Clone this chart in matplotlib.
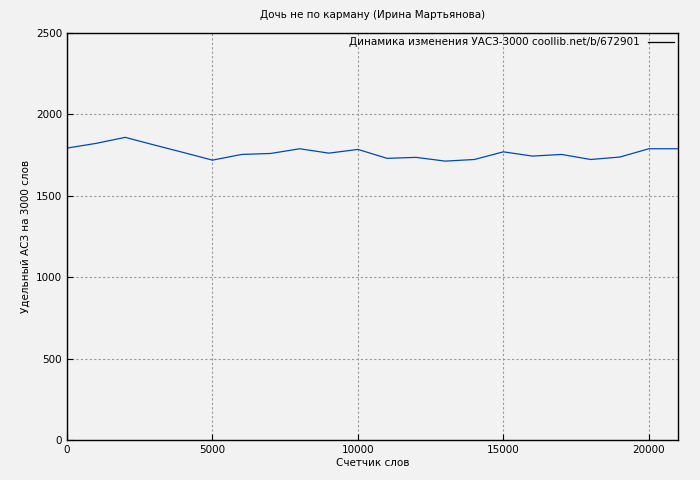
import matplotlib
matplotlib.use("Agg")
import matplotlib.pyplot as plt

words = [0, 1000, 2000, 3000, 4000, 5000, 6000, 7000, 8000, 9000, 10000,
         11000, 12000, 13000, 14000, 15000, 16000, 17000, 18000, 19000, 20000, 21000]
uasz = [1793, 1822, 1859, 1812, 1766, 1719, 1754, 1760, 1789, 1762, 1785,
        1730, 1736, 1713, 1723, 1770, 1744, 1754, 1723, 1738, 1789, 1789]

fig = plt.figure(figsize=(7, 4.8), dpi=100, facecolor='#f2f2f2')
ax = fig.add_axes([67/700, 1-440/480, (678-67)/700, (440-33)/480])
ax.set_facecolor('#f2f2f2')
ax.plot(words, uasz, color='#0047bb', lw=0.9,
        label='Динамика изменения УАСЗ-3000 coollib.net/b/672901')
ax.set_xlim(0, 21000)
ax.set_ylim(0, 2500)
ax.set_xticks([0, 5000, 10000, 15000, 20000])
ax.set_yticks([0, 500, 1000, 1500, 2000, 2500])
ax.grid(True, color='#999999', ls=(0, (2, 2)), lw=0.8)
ax.tick_params(labelsize=7.5, direction='in', length=4)
for s in ax.spines.values():
    s.set_linewidth(1)
ax.set_xlabel('Счетчик слов', fontsize=7.5, labelpad=2)
ax.set_ylabel('Удельный АСЗ на 3000 слов', fontsize=7.5)
ax.set_title('Дочь не по карману (Ирина Мартьянова)', fontsize=7.5, pad=11)
leg = ax.legend(loc='upper right', fontsize=7.5, frameon=False, markerfirst=False,
                handlelength=2.5, borderaxespad=0.1, borderpad=0.3)
for h in leg.get_lines():
    h.set_color('#000000')
fig.savefig('out.png', dpi=100, facecolor=fig.get_facecolor())
